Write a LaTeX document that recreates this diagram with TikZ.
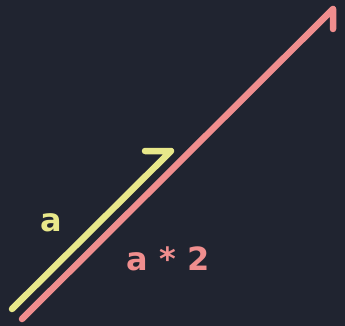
\documentclass[tikz,border=0pt]{standalone}
\usepackage{fontspec}
\setmainfont{DejaVu Sans}
\usetikzlibrary{positioning}
\definecolor{bgdark}{RGB}{32,36,48}
\definecolor{vecyellow}{RGB}{232,232,138}
\definecolor{vecpink}{RGB}{240,142,142}

\begin{document}
\begin{tikzpicture}[
    x=1pt, y=-1pt,
    vec/.style={line width=6.5pt, line cap=round, line join=round},
    veclabel/.style={anchor=base, inner sep=0pt, font=\bfseries\fontsize{32}{36}\selectfont}
]

    % --- Background ---
    \fill[bgdark] (0,0) rectangle (345,326);
    \useasboundingbox (0,0) rectangle (345,326);

    % --- Coordinates ---
    \coordinate (astart) at (12,309);
    \coordinate (atip) at (171,151);
    \coordinate (abarb) at (145,151);
    \coordinate (bstart) at (22,319);
    \coordinate (btip) at (333,9);
    \coordinate (bbarb) at (333,29);

    % --- Vectors ---
    \draw[vec, vecyellow] (astart) -- (atip) -- (abarb);
    \draw[vec, vecpink] (bstart) -- (btip) -- (bbarb);

    % --- Labels ---
    \node[veclabel, text=vecyellow] (alabel) at (51,231) {a};
    \node[veclabel, text=vecpink] (blabel) at (168,270) {a * 2};

\end{tikzpicture}
\end{document}
